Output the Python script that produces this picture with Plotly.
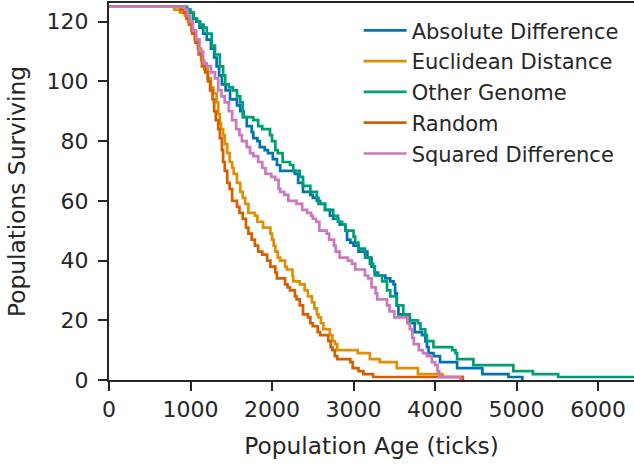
import plotly.graph_objects as go

# ---------------- data ----------------
series_names = ["Absolute Difference", "Euclidean Distance", "Other Genome",
                "Random", "Squared Difference"]

abs_x = [0, 940, 990, 1030, 1070, 1110, 1155, 1200, 1250, 1290, 1320, 1350, 1385, 1430,
         1485, 1570, 1610, 1650, 1690, 1750, 1770, 1820, 1850, 1910, 1950, 2010, 2060,
         2100, 2280, 2320, 2380, 2470, 2500, 2550, 2590, 2650, 2710, 2750, 2810, 2830,
         2900, 2920, 2960, 3000, 3060, 3170, 3220, 3260, 3300, 3390, 3450, 3490, 3510,
         3530, 3550, 3660, 3690, 3750, 3840, 3880, 3900, 3920, 3980, 4060, 4270, 4580,
         4900, 5070]
abs_y = [125, 124, 123, 121, 120, 118, 116, 114, 111, 108, 105, 102, 99, 97,
         94, 92, 90, 88, 85, 83, 81, 80, 78, 77, 76, 74, 72,
         70, 69, 66, 63, 62, 61, 60, 59, 57, 55, 54, 53, 52,
         50, 47, 46, 45, 43, 41, 38, 36, 35, 34, 33, 32, 29,
         25, 22, 21, 19, 16, 15, 13, 11, 9, 8, 6, 4, 2,
         1, 0]

euc_x = [0, 800, 870, 930, 970, 1010, 1050, 1090, 1130, 1170, 1210, 1250, 1280, 1320,
         1340, 1360, 1375, 1400, 1420, 1450, 1480, 1510, 1530, 1570, 1610, 1640, 1670,
         1710, 1790, 1820, 1890, 1980, 2000, 2020, 2040, 2070, 2100, 2160, 2180, 2250,
         2260, 2340, 2400, 2440, 2490, 2520, 2550, 2570, 2600, 2630, 2710, 2740, 2770,
         2800, 3050, 3200, 3320, 3530, 3790, 4090, 4340]
euc_y = [125, 124, 123, 122, 120, 117, 114, 111, 107, 104, 101, 98, 96, 93,
         89, 86, 84, 82, 79, 76, 73, 71, 69, 66, 63, 61, 59,
         56, 55, 53, 51, 49, 47, 45, 43, 41, 40, 38, 37, 35,
         33, 32, 30, 28, 26, 24, 22, 21, 19, 17, 15, 13, 12,
         10, 9, 7, 6, 4, 2, 1, 0]

oth_x = [0, 960, 1000, 1040, 1080, 1120, 1160, 1200, 1260, 1300, 1360, 1400, 1425, 1470,
         1520, 1570, 1610, 1640, 1770, 1830, 1880, 1975, 2000, 2040, 2070, 2130, 2220,
         2260, 2340, 2380, 2470, 2550, 2570, 2650, 2750, 2810, 2860, 2900, 3000, 3020,
         3060, 3140, 3200, 3240, 3260, 3350, 3410, 3450, 3530, 3610, 3690, 3790, 3820,
         3880, 3900, 3980, 4210, 4250, 4270, 4470, 4960, 5200, 5510, 6440]
oth_y = [125, 124, 123, 121, 120, 119, 118, 116, 112, 109, 105, 102, 99, 98,
         97, 95, 93, 88, 87, 85, 84, 82, 80, 77, 76, 73, 72,
         70, 68, 65, 63, 61, 59, 57, 55, 53, 52, 50, 48, 46,
         44, 41, 39, 38, 35, 33, 30, 28, 25, 22, 20, 19, 17,
         15, 13, 11, 10, 9, 7, 5, 3, 2, 1, 1]

rnd_x = [0, 880, 920, 950, 980, 1020, 1060, 1100, 1140, 1180, 1215, 1240, 1270, 1290,
         1310, 1340, 1360, 1385, 1400, 1420, 1450, 1480, 1510, 1570, 1600, 1640, 1680,
         1710, 1750, 1790, 1830, 1880, 1940, 1980, 2040, 2060, 2160, 2190, 2220, 2280,
         2300, 2340, 2380, 2440, 2470, 2500, 2560, 2590, 2690, 2720, 2740, 2770, 2800,
         2960, 2990, 3060, 3120, 3240, 4340]
rnd_y = [125, 124, 123, 121, 119, 116, 113, 109, 105, 103, 100, 97, 94, 90,
         87, 84, 81, 77, 73, 70, 66, 64, 60, 58, 56, 54, 51,
         49, 47, 45, 43, 42, 40, 38, 36, 34, 32, 31, 30, 28,
         27, 25, 22, 21, 19, 18, 16, 15, 13, 11, 10, 8, 7,
         6, 4, 3, 2, 1, 0]

sq_x = [0, 930, 960, 990, 1030, 1070, 1110, 1155, 1200, 1250, 1300, 1340, 1380, 1420,
        1470, 1510, 1560, 1600, 1630, 1690, 1730, 1770, 1830, 1880, 1920, 1990, 2040,
        2080, 2100, 2150, 2200, 2300, 2370, 2430, 2480, 2500, 2540, 2580, 2670, 2700,
        2760, 2780, 2830, 2930, 2980, 3020, 3140, 3180, 3220, 3270, 3290, 3410, 3440,
        3500, 3660, 3690, 3720, 3740, 3800, 3850, 3900, 3960, 4000, 4030, 4050, 4310]
sq_y = [125, 124, 122, 120, 117, 114, 110, 106, 105, 103, 101, 97, 95, 93,
        90, 87, 84, 82, 80, 78, 76, 75, 73, 71, 69, 68, 67,
        64, 63, 62, 60, 59, 57, 56, 55, 54, 53, 50, 49, 47,
        45, 43, 41, 40, 39, 37, 35, 34, 31, 29, 27, 25, 23,
        21, 19, 17, 14, 12, 10, 9, 8, 6, 5, 3, 1, 0]

colors = ["#0173B2", "#DE8F05", "#029E73", "#D55E00", "#CC78BC"]

x_ticks = [0, 1000, 2000, 3000, 4000, 5000, 6000]
y_ticks = [0, 20, 40, 60, 80, 100, 120]

# ---------------- figure ----------------
xs = [abs_x, euc_x, oth_x, rnd_x, sq_x]
ys = [abs_y, euc_y, oth_y, rnd_y, sq_y]

fig = go.Figure()
for name, x, y, c in zip(series_names, xs, ys, colors):
    fig.add_trace(go.Scatter(x=x, y=y, mode="lines", name=name, legendgroup=name,
                             line=dict(color=c, width=2.7, shape="hv")))

ink = "#262626"
font = "DejaVu Sans"
fig.update_layout(
    width=634, height=464,
    margin=dict(l=109, r=0, t=3, b=84),
    paper_bgcolor="white", plot_bgcolor="white",
    font=dict(family=font, color=ink, size=20),
    showlegend=True,
    legend=dict(x=0.4755, y=0.981, xanchor="left", yanchor="top",
                font=dict(family=font, size=21, color=ink),
                bgcolor="rgba(255,255,255,0)", tracegroupgap=0.5,
                itemwidth=43),
    xaxis=dict(range=[0, 6440], tickvals=x_ticks, showgrid=False, zeroline=False,
               automargin=False,
               showline=True, linecolor=ink, linewidth=2, mirror=True,
               ticks="outside", ticklen=9, tickwidth=2, tickcolor=ink,
               tickfont=dict(family=font, size=22, color=ink),
               layer="above traces",
               title=dict(text="Population Age (ticks)", standoff=16,
                          font=dict(family=font, size=23.3, color=ink))),
    yaxis=dict(range=[0, 126.25], tickvals=y_ticks, showgrid=False, zeroline=False,
               automargin=False,
               showline=True, linecolor=ink, linewidth=2,
               ticks="outside", ticklen=9, tickwidth=2, tickcolor=ink,
               ticklabelstandoff=5,
               tickfont=dict(family=font, size=22, color=ink),
               layer="above traces",
               title=dict(text="Populations Surviving", standoff=14,
                          font=dict(family=font, size=23.3, color=ink))),
)

fig.write_html("out.html",
               config={"displayModeBar": False, "staticPlot": True},
               post_script="document.body.style.margin='0px';"
                           "document.body.style.padding='0px';")
